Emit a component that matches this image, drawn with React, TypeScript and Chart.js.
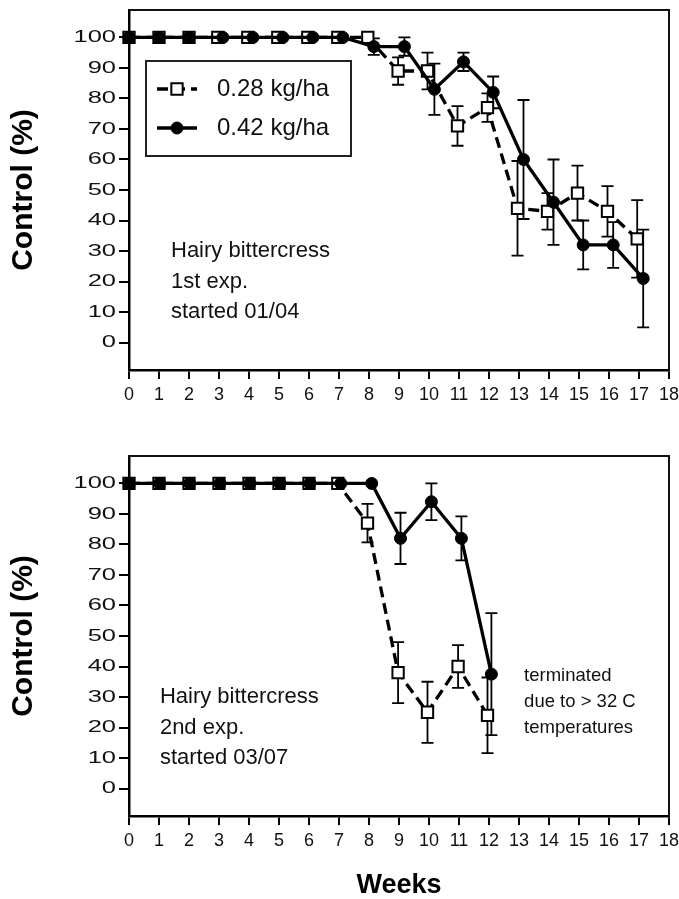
import React, { useEffect, useRef } from 'react';
import { Chart, registerables } from 'chart.js';

Chart.register(...registerables);

const FONT = "'Liberation Sans', Arial, Helvetica, sans-serif";

// ---------- data ----------
const xTicks = [0, 1, 2, 3, 4, 5, 6, 7, 8, 9, 10, 11, 12, 13, 14, 15, 16, 17, 18];
const yTicks = [0, 10, 20, 30, 40, 50, 60, 70, 80, 90, 100];
const seriesLabels = ['0.28 kg/ha', '0.42 kg/ha'];
const yTitle = 'Control (%)';
const xTitle = 'Weeks';

// Experiment 1 (started 01/04)
const exp1LowX = [0, 1, 2, 2.96, 3.96, 4.96, 5.96, 6.96, 7.96, 8.97, 9.95, 10.95, 11.95, 12.95, 13.95, 14.95, 15.95, 16.94];
const exp1Low = [100, 100, 100, 100, 100, 100, 100, 100, 100, 89, 89, 71, 77, 44, 43, 49, 43, 34];
const exp1LowErr = [0, 0, 0, 0, 0, 0, 0, 0, 0, 4.5, 6, 6.5, 4.7, 15.5, 6, 9, 8.3, 12.7];
const exp1HighX = [0, 1, 2, 3.13, 4.13, 5.13, 6.13, 7.13, 8.16, 9.18, 10.18, 11.15, 12.14, 13.15, 14.15, 15.14, 16.14, 17.14];
const exp1High = [100, 100, 100, 100, 100, 100, 100, 100, 97, 97, 83, 92, 82, 60, 46, 32, 32, 21];
const exp1HighErr = [0, 0, 0, 0, 0, 0, 0, 0, 2.7, 3, 8.4, 3, 5.2, 19.5, 14, 8, 7.5, 16];
const exp1Note = ['Hairy bittercress', '1st exp.', 'started 01/04'];

// Experiment 2 (started 03/07)
const exp2LowX = [0, 1, 2, 3, 4, 5, 6, 6.96, 7.95, 8.97, 9.95, 10.97, 11.95];
const exp2Low = [100, 100, 100, 100, 100, 100, 100, 100, 87, 38, 25, 40, 24];
const exp2LowErr = [0, 0, 0, 0, 0, 0, 0, 0, 6.3, 10, 10, 7, 12.4];
const exp2HighX = [0, 1.02, 2.02, 3.03, 4.03, 5.03, 6.03, 7.06, 8.09, 9.05, 10.08, 11.08, 12.08];
const exp2High = [100, 100, 100, 100, 100, 100, 100, 100, 100, 82, 94, 82, 37.5];
const exp2HighErr = [0, 0, 0, 0, 0, 0, 0, 0, 0, 8.4, 6, 7.2, 20];
const exp2Note = ['Hairy bittercress', '2nd exp.', 'started 03/07'];
const exp2EndNote = ['terminated', 'due to > 32 C', 'temperatures'];

// ---------- plugins ----------
const errorBarPlugin = {
  id: 'errorBars',
  beforeDatasetsDraw(chart: any) {
    const { ctx, scales } = chart;
    const xs = scales.x;
    const ys = scales.y;
    ctx.save();
    ctx.strokeStyle = '#000';
    ctx.lineWidth = 1.8;
    ctx.setLineDash([]);
    chart.data.datasets.forEach((ds: any) => {
      const errs: number[] = ds.errorBars || [];
      ds.data.forEach((pt: any, i: number) => {
        const e = errs[i];
        if (!e) return;
        const px = xs.getPixelForValue(pt.x);
        const hi = ys.getPixelForValue(pt.y + e);
        const lo = ys.getPixelForValue(pt.y - e);
        ctx.beginPath();
        ctx.moveTo(px, hi);
        ctx.lineTo(px, lo);
        ctx.moveTo(px - 6, hi);
        ctx.lineTo(px + 6, hi);
        ctx.moveTo(px - 6, lo);
        ctx.lineTo(px + 6, lo);
        ctx.stroke();
      });
    });
    ctx.restore();
  },
};

const framePlugin = {
  id: 'frame',
  afterDatasetsDraw(chart: any) {
    const { ctx, chartArea } = chart;
    ctx.save();
    ctx.strokeStyle = '#111';
    ctx.lineWidth = 2;
    ctx.setLineDash([]);
    ctx.beginPath();
    ctx.moveTo(chartArea.left, chartArea.top);
    ctx.lineTo(chartArea.right, chartArea.top);
    ctx.lineTo(chartArea.right, chartArea.bottom);
    ctx.stroke();
    ctx.restore();
  },
};

const wideYLabels = {
  id: 'wideYLabels',
  afterUpdate(chart: any, _a: any, opts: any) {
    const s: any = chart.scales.y;
    if (!s || s.__wide) return;
    const orig = s.drawLabels;
    const k = (opts && opts.stretch) || 1;
    s.drawLabels = function (area: any) {
      const c = this.ctx;
      const ax = this.right - this.options.grid.tickLength - this.options.ticks.padding;
      c.save();
      c.translate(ax, 0);
      c.scale(k, 1);
      c.translate(-ax, 0);
      orig.call(this, area);
      c.restore();
    };
    s.__wide = true;
  },
};

const notesPlugin = {
  id: 'notes',
  afterDraw(chart: any, _a: any, opts: any) {
    if (!opts || !opts.blocks) return;
    const { ctx, scales } = chart;
    ctx.save();
    ctx.fillStyle = '#111';
    ctx.textAlign = 'left';
    ctx.textBaseline = 'middle';
    opts.blocks.forEach((b: any) => {
      ctx.font = `${b.size}px ${FONT}`;
      const x0 = scales.x.getPixelForValue(b.x);
      b.lines.forEach((t: string, i: number) => {
        const y0 = scales.y.getPixelForValue(b.ys[i]);
        ctx.fillText(t, x0, y0);
      });
    });
    ctx.restore();
  },
};

const legendPlugin = {
  id: 'boxLegend',
  afterDraw(chart: any, _a: any, opts: any) {
    if (!opts || !opts.show) return;
    const ctx = chart.ctx;
    ctx.save();
    ctx.strokeStyle = '#222';
    ctx.lineWidth = 2;
    ctx.setLineDash([]);
    ctx.strokeRect(opts.left, opts.top, opts.width, opts.height);
    const rows = [...chart.data.datasets].sort((a: any, b: any) => a.legendRank - b.legendRank);
    rows.forEach((ds: any, i: number) => {
      const y = opts.top + opts.firstRow + i * opts.rowGap;
      const x1 = opts.left + opts.sampleX;
      const x2 = x1 + opts.sampleW;
      const cx = (x1 + x2) / 2;
      ctx.strokeStyle = '#000';
      ctx.lineWidth = ds.borderWidth;
      ctx.setLineDash(ds.borderDash || []);
      ctx.beginPath();
      ctx.moveTo(x1, y);
      ctx.lineTo(x2, y);
      ctx.stroke();
      ctx.setLineDash([]);
      ctx.lineWidth = ds.pointBorderWidth;
      ctx.fillStyle = ds.pointBackgroundColor;
      ctx.beginPath();
      if (ds.pointStyle === 'rect') {
        const h = Math.SQRT1_2 * ds.pointRadius;
        ctx.rect(cx - h, y - h, 2 * h, 2 * h);
      } else {
        ctx.arc(cx, y, ds.pointRadius, 0, Math.PI * 2);
      }
      ctx.fill();
      ctx.stroke();
      ctx.fillStyle = '#111';
      ctx.font = `${opts.fontSize}px ${FONT}`;
      ctx.textAlign = 'left';
      ctx.textBaseline = 'middle';
      ctx.fillText(ds.label, opts.left + opts.textX, y);
    });
    ctx.restore();
  },
};

// ---------- panels ----------
type Panel = {
  lowX: number[]; low: number[]; lowErr: number[];
  highX: number[]; high: number[]; highErr: number[];
  blocks: any[];
  legend: boolean;
  showXTitle: boolean;
  top: number; height: number; padTop: number; xAxisH: number;
};

const panels: Panel[] = [
  {
    lowX: exp1LowX, low: exp1Low, lowErr: exp1LowErr,
    highX: exp1HighX, high: exp1High, highErr: exp1HighErr,
    blocks: [{ lines: exp1Note, x: 1.4, ys: [30, 20, 10], size: 22 }],
    legend: true,
    showXTitle: false,
    top: 0, height: 420, padTop: 10, xAxisH: 50,
  },
  {
    lowX: exp2LowX, low: exp2Low, lowErr: exp2LowErr,
    highX: exp2HighX, high: exp2High, highErr: exp2HighErr,
    blocks: [
      { lines: exp2Note, x: 1.03, ys: [30, 20, 10], size: 22 },
      { lines: exp2EndNote, x: 13.17, ys: [37, 28.5, 20], size: 18.5 },
    ],
    legend: false,
    showXTitle: true,
    top: 436, height: 463, padTop: 20, xAxisH: 83,
  },
];

function makeConfig(p: Panel): any {
  return {
    type: 'line',
    data: {
      datasets: [
        {
          label: seriesLabels[1],
          legendRank: 1,
          data: p.highX.map((x, i) => ({ x, y: p.high[i] })),
          errorBars: p.highErr,
          borderColor: '#000',
          borderWidth: 3.3,
          pointStyle: 'circle',
          pointRadius: 6,
          pointBorderWidth: 1,
          pointBackgroundColor: '#000',
          pointBorderColor: '#000',
          tension: 0,
          fill: false,
          clip: false,
          order: 0,
        },
        {
          label: seriesLabels[0],
          legendRank: 0,
          data: p.lowX.map((x, i) => ({ x, y: p.low[i] })),
          errorBars: p.lowErr,
          borderColor: '#000',
          borderWidth: 3.3,
          borderDash: [11, 6],
          pointStyle: 'rect',
          pointRadius: 8,
          pointBorderWidth: 2,
          pointBackgroundColor: '#fff',
          pointBorderColor: '#000',
          tension: 0,
          fill: false,
          clip: false,
          order: 1,
        },
      ],
    },
    options: {
      responsive: false,
      maintainAspectRatio: false,
      animation: false,
      devicePixelRatio: 1,
      events: [],
      layout: { padding: { top: p.padTop, right: 9, left: 0, bottom: 0 } },
      plugins: {
        legend: { display: false },
        tooltip: { enabled: false },
        wideYLabels: { stretch: 1.5 },
        notes: { blocks: p.blocks },
        boxLegend: {
          show: p.legend,
          left: 146, top: 61, width: 205, height: 95,
          firstRow: 28, rowGap: 39,
          sampleX: 11, sampleW: 40, textX: 71, fontSize: 24,
        },
      },
      scales: {
        x: {
          type: 'linear',
          min: 0,
          max: 18,
          afterBuildTicks: (s: any) => { s.ticks = xTicks.map((v) => ({ value: v })); },
          afterFit: (s: any) => { s.height = p.xAxisH; s.paddingLeft = 0; s.paddingRight = 0; },
          grid: { display: true, drawOnChartArea: false, drawTicks: true, tickLength: 9, color: '#000', lineWidth: 2 },
          border: { display: true, color: '#000', width: 2.5 },
          ticks: { color: '#111', font: { family: FONT, size: 18 }, padding: 5, autoSkip: false, maxRotation: 0, minRotation: 0 },
          title: {
            display: p.showXTitle,
            text: xTitle,
            color: '#000',
            font: { family: FONT, size: 27, weight: 'bold', lineHeight: 1 },
            padding: { top: 0, bottom: 0 },
          },
        },
        y: {
          type: 'linear',
          min: -9,
          max: 109,
          afterBuildTicks: (s: any) => { s.ticks = yTicks.map((v) => ({ value: v })); },
          afterFit: (s: any) => { s.width = 129; s.paddingTop = 0; s.paddingBottom = 0; },
          grid: { display: true, drawOnChartArea: false, drawTicks: true, tickLength: 10, color: '#000', lineWidth: 2 },
          border: { display: true, color: '#000', width: 2.5 },
          ticks: { color: '#111', font: { family: FONT, size: 17 }, padding: 3, autoSkip: false },
          title: {
            display: true,
            text: yTitle,
            color: '#000',
            font: { family: FONT, size: 30, weight: 'bold', lineHeight: 1 },
            padding: { top: 9, bottom: 0 },
          },
        },
      },
    },
    plugins: [errorBarPlugin, framePlugin, wideYLabels, notesPlugin, legendPlugin],
  };
}

function ChartPanel({ panel }: { panel: Panel }) {
  const ref = useRef<HTMLCanvasElement>(null);
  useEffect(() => {
    if (!ref.current) return;
    const chart = new Chart(ref.current, makeConfig(panel));
    return () => chart.destroy();
  }, [panel]);
  return (
    <canvas
      ref={ref}
      width={679}
      height={panel.height}
      style={{ position: 'absolute', left: 0, top: panel.top, width: 679, height: panel.height, display: 'block' }}
    />
  );
}

export default function App() {
  return (
    <div style={{ position: 'absolute', left: 0, top: 0, width: 679, height: 899, background: '#fff' }}>
      {panels.map((p, i) => (
        <ChartPanel key={i} panel={p} />
      ))}
    </div>
  );
}
